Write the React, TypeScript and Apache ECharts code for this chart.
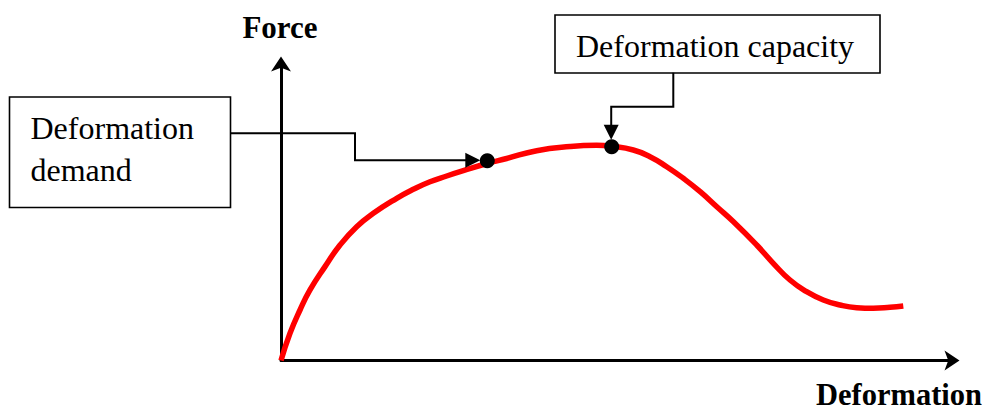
import React, { useEffect, useRef } from "react";
import * as echarts from "echarts";

// Force–deformation curve (arbitrary units)
const deformation = [0, 1.34, 2.83, 4.32, 6.55, 8.79, 11.27, 13.75, 17.23, 19.7, 22.19, 24.68, 27.15, 30.68, 33.61, 38.08, 43.04, 47.01, 49.25, 52.46, 54.95, 57.44, 59.91, 62.42, 64.9, 67.38, 70.84, 73.31, 75.8, 78.29, 80.76, 83.25, 85.73, 88.2, 90.69, 92.67];
const force = [0, 9.16, 17.0, 23.74, 31.6, 38.89, 45.05, 49.56, 54.61, 57.64, 60.2, 62.12, 63.91, 66.33, 68.01, 70.64, 72.05, 72.46, 72.12, 70.88, 68.62, 65.25, 61.35, 56.84, 51.78, 46.73, 38.89, 32.73, 27.1, 23.16, 20.37, 18.69, 17.78, 17.58, 17.91, 18.35];

// Marked points
const demandPoint = [30.72, 67.27];
const capacityPoint = [49.25, 71.99];

// Texts
const yTitle = "Force";
const xTitle = "Deformation";
const capacityLabel = "Deformation capacity";
const demandLabel = ["Deformation", "demand"];

const FONT = "'Liberation Serif', 'Times New Roman', serif";

export default function App() {
  const ref = useRef<HTMLDivElement>(null);

  useEffect(() => {
    if (!ref.current) return;
    const chart = echarts.init(ref.current, undefined, { renderer: "svg" });

    const curve = deformation.map((d, i) => [d, force[i]]);

    const axisCommon = {
      type: "value" as const,
      min: 0,
      max: 100,
      axisLine: {
        show: true,
        symbol: ["none", "arrow"],
        symbolSize: [15, 15],
        symbolOffset: [0, 7],
        lineStyle: { color: "#000", width: 3 },
      },
      axisTick: { show: false },
      axisLabel: { show: false },
      splitLine: { show: false },
    };

    chart.setOption({
      animation: false,
      backgroundColor: "#fff",
      grid: {
        left: 281,
        top: 63.5,
        width: 671.5,
        height: 297,
        containLabel: false,
        outerBoundsMode: "none",
      },
      xAxis: { ...axisCommon },
      yAxis: { ...axisCommon },
      series: [
        {
          type: "line",
          data: curve,
          smooth: 0.5,
          symbol: "none",
          lineStyle: { color: "#ff0000", width: 5.5 },
          z: 2,
        },
        {
          type: "scatter",
          data: [demandPoint, capacityPoint],
          symbol: "circle",
          symbolSize: 15,
          itemStyle: { color: "#000", opacity: 1 },
          z: 3,
        },
      ],
    });

    const d = chart.convertToPixel({ gridIndex: 0 }, demandPoint) as number[];
    const c = chart.convertToPixel({ gridIndex: 0 }, capacityPoint) as number[];

    const lineStyle = { stroke: "#000", lineWidth: 2, fill: null };
    const textStyle = (size: number, weight: string) => ({
      fill: "#000",
      fontFamily: FONT,
      fontSize: size,
      fontWeight: weight,
    });

    // demand connector
    const dTipX = d[0] - 7;
    const dY = d[1] - 0.5;
    const dBase = dTipX - 15;
    // capacity connector
    const cTipY = c[1] - 7;
    const cX = c[0] - 0.5;
    const cBase = cTipY - 15;

    chart.setOption({
      graphic: [
        // Axis titles
        {
          type: "text",
          x: 280,
          y: 27,
          style: { ...textStyle(31, "bold"), text: yTitle, align: "center", verticalAlign: "middle" },
        },
        {
          type: "text",
          x: 982,
          y: 395,
          style: { ...textStyle(30.5, "bold"), text: xTitle, align: "right", verticalAlign: "middle" },
        },
        // Capacity box
        {
          type: "rect",
          shape: { x: 555, y: 15, width: 325, height: 58 },
          style: { stroke: "#000", lineWidth: 1.6, fill: "#fff" },
        },
        {
          type: "text",
          x: 576,
          y: 46,
          style: { ...textStyle(32, "normal"), text: capacityLabel, align: "left", verticalAlign: "middle" },
        },
        // Demand box
        {
          type: "rect",
          shape: { x: 9.5, y: 97, width: 221, height: 110.5 },
          style: { stroke: "#000", lineWidth: 1.6, fill: "#fff" },
        },
        {
          type: "text",
          x: 30.5,
          y: 128,
          style: { ...textStyle(32, "normal"), text: demandLabel[0], align: "left", verticalAlign: "middle" },
        },
        {
          type: "text",
          x: 30.5,
          y: 169.5,
          style: { ...textStyle(32, "normal"), text: demandLabel[1], align: "left", verticalAlign: "middle" },
        },
        // Demand connector
        {
          type: "polyline",
          shape: { points: [[230.5, 133.3], [355, 133.3], [355, dY], [dBase + 1, dY]] },
          style: lineStyle,
          z: 10,
        },
        {
          type: "polygon",
          shape: { points: [[dBase, dY - 7.5], [dTipX, dY], [dBase, dY + 7.5]] },
          style: { fill: "#000" },
          z: 10,
        },
        // Capacity connector
        {
          type: "polyline",
          shape: { points: [[673.3, 72.7], [673.3, 106.7], [cX, 106.7], [cX, cBase + 1]] },
          style: lineStyle,
          z: 10,
        },
        {
          type: "polygon",
          shape: { points: [[cX - 7.5, cBase], [cX, cTipY], [cX + 7.5, cBase]] },
          style: { fill: "#000" },
          z: 10,
        },
      ],
    });

    return () => chart.dispose();
  }, []);

  return (
    <div
      ref={ref}
      style={{ position: "fixed", left: 0, top: 0, width: 985, height: 411, background: "#fff" }}
    />
  );
}
